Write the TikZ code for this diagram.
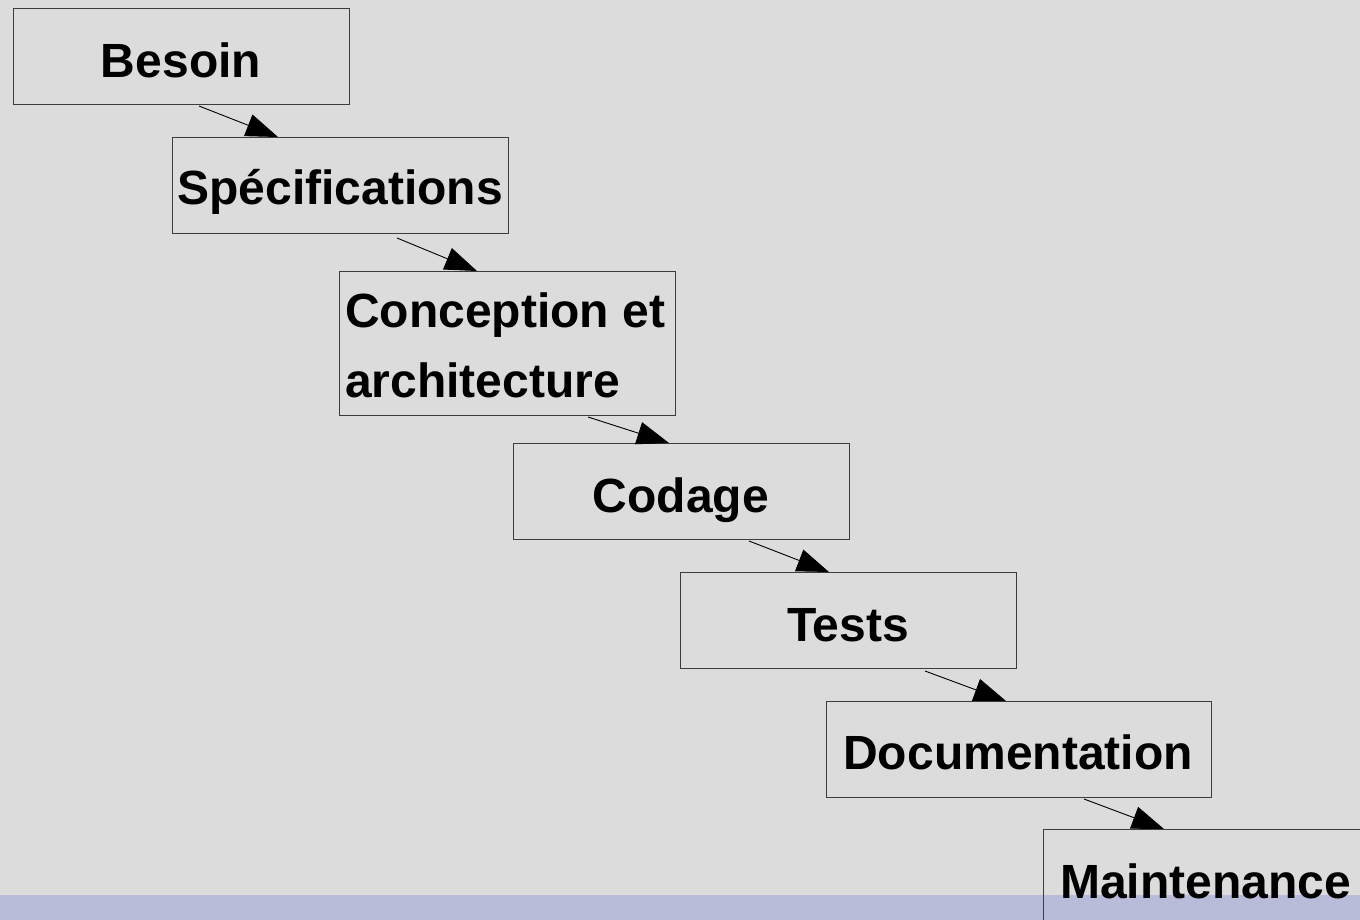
\documentclass[tikz,border=0pt]{standalone}
\usepackage{fontspec}
\setmainfont{Liberation Sans}
\usetikzlibrary{arrows.meta,calc}
\definecolor{bg}{RGB}{220,220,220}
\definecolor{band}{RGB}{184,188,216}
\definecolor{edge}{RGB}{60,60,60}
\begin{document}
\begin{tikzpicture}[x=1pt,y=-1pt,
  box/.style={draw=edge,line width=1pt,minimum width=336pt,minimum height=96pt,inner sep=0pt,anchor=north west},
  lbl/.style={font=\fontsize{48}{58}\selectfont\bfseries,inner sep=0pt,anchor=base},
  lblw/.style={lbl,anchor=base west},
  flow/.style={line width=0.9pt,-{Triangle[length=32pt,width=23pt]}}]
\useasboundingbox (0,0) rectangle (1360,920);
\fill[bg] (0,0) rectangle (1360,920);
\fill[band] (0,895) rectangle (1360,920);
\begin{scope}
\clip (0,0) rectangle (1360,920);
\node[box] (besoin) at (13,8) {};
\node[box] (spec) at (172,137) {};
\node[box,minimum height=144pt] (conc) at (339,271) {};
\node[box] (codage) at (513,443) {};
\node[box] (tests) at (680,572) {};
\node[box,minimum width=385pt] (doc) at (826,701) {};
\node[box,minimum width=400pt,minimum height=140pt] (maint) at (1043,829) {};
\end{scope}
\node[lbl] (tbesoin) at (181,78) {Besoin};
\node[lbl] (tspec) at (340,205) {Spécifications};
\node[lblw] (tconc1) at (345,327) {Conception et};
\node[lblw] (tconc2) at (345,397) {architecture};
\node[lbl] (tcodage) at (681,512) {Codage};
\node[lbl] (ttests) at (848,641) {Tests};
\node[lbl] (tdoc) at (1018,769) {Documentation};
\node[lblw] (tmaint) at (1060,898) {Maintenance};
\draw[flow] ($(besoin.south west)+(186,1)$) -- ($(spec.north west)+(106,0)$);
\draw[flow] ($(spec.south west)+(225,4)$) -- ($(conc.north west)+(138,0)$);
\draw[flow] ($(conc.south west)+(249,1)$) -- ($(codage.north west)+(156,0)$);
\draw[flow] ($(codage.south west)+(236,1)$) -- ($(tests.north west)+(149,0)$);
\draw[flow] ($(tests.south west)+(245,2)$) -- ($(doc.north west)+(180,0)$);
\draw[flow] ($(doc.south west)+(258,1)$) -- ($(maint.north west)+(121,0)$);
\end{tikzpicture}
\end{document}
